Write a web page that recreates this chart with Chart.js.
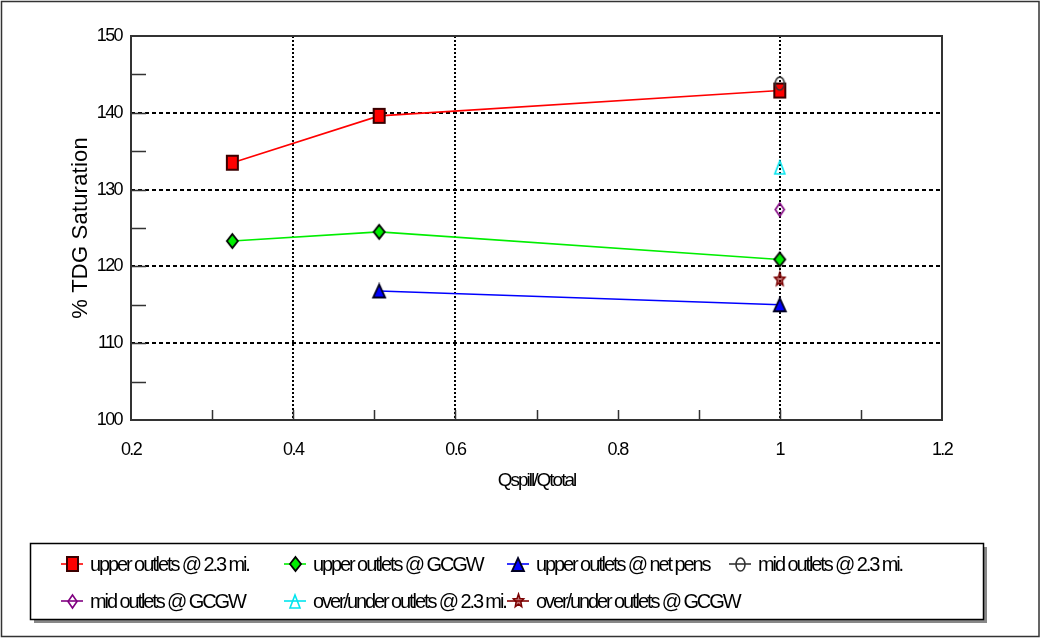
<!DOCTYPE html>
<html>
<head>
<meta charset="utf-8">
<script src="https://cdn.jsdelivr.net/npm/chart.js@4/dist/chart.umd.min.js"></script>
<style>
  html, body { margin: 0; padding: 0; background: #fff; }
  #wrap { width: 1041px; height: 638px; position: relative; }
</style>
</head>
<body>
<div id="wrap"><canvas id="c" width="1041" height="638"></canvas></div>
<script>
// Series names, in legend order
const seriesNames = [
  'upper outlets @ 2.3 mi.',
  'upper outlets @ GCGW',
  'upper outlets @ net pens',
  'mid outlets @ 2.3 mi.',
  'mid outlets @ GCGW',
  'over/under outlets @ 2.3 mi.',
  'over/under outlets @ GCGW'
];

// Qspill/Qtotal values for each series
const xUpper23   = [0.325, 0.506, 1.0];
const xUpperGCGW = [0.325, 0.506, 1.0];
const xNetPens   = [0.506, 1.0];
const xMid23     = [1.0];
const xMidGCGW   = [1.0];
const xOver23    = [1.0];
const xOverGCGW  = [1.0];

// % TDG saturation for each series
const tdgUpper23   = [133.5, 139.6, 142.9];
const tdgUpperGCGW = [123.3, 124.5, 120.9];
const tdgNetPens   = [116.8, 115.0];
const tdgMid23     = [143.8];
const tdgMidGCGW   = [127.4];
const tdgOver23    = [132.9];
const tdgOverGCGW  = [118.3];

// Axis tick labels and titles
const xTickLabels = ['0.2', '0.4', '0.6', '0.8', '1', '1.2'];
const yTickLabels = ['100', '110', '120', '130', '140', '150'];
const xTitle = 'Qspill/Qtotal';
const yTitle = '% TDG Saturation';

const FONT = '"Liberation Sans", Arial, sans-serif';

// Marker images (slightly taller than wide)
function marker(shape, fill, stroke, w, h, lw) {
  const pad = 2;
  const c = document.createElement('canvas');
  c.width = w + pad * 2; c.height = h + pad * 2;
  const g = c.getContext('2d');
  const cx = c.width / 2, cy = c.height / 2, rx = w / 2, ry = h / 2;
  g.beginPath();
  if (shape === 'square') {
    g.rect(cx - rx, cy - ry, w, h);
  } else if (shape === 'diamond') {
    g.moveTo(cx, cy - ry); g.lineTo(cx + rx, cy); g.lineTo(cx, cy + ry); g.lineTo(cx - rx, cy); g.closePath();
  } else if (shape === 'triangle') {
    g.moveTo(cx, cy - ry); g.lineTo(cx + rx, cy + ry); g.lineTo(cx - rx, cy + ry); g.closePath();
  } else if (shape === 'circle') {
    g.ellipse(cx, cy, rx, ry, 0, 0, Math.PI * 2);
  } else if (shape === 'star') {
    for (let i = 0; i < 10; i++) {
      const a = -Math.PI / 2 + i * Math.PI / 5;
      const k = i % 2 === 0 ? 1 : 0.45;
      const px = cx + Math.cos(a) * rx * k, py = cy + Math.sin(a) * ry * k;
      if (i === 0) g.moveTo(px, py); else g.lineTo(px, py);
    }
    g.closePath();
  }
  if (fill) { g.fillStyle = fill; g.fill(); }
  g.lineWidth = lw; g.strokeStyle = stroke; g.stroke();
  return c;
}

const markers = [
  marker('square',   '#ff0000', '#3a0000', 11, 14, 2),
  marker('diamond',  '#00ee00', '#000000', 11, 14, 1.8),
  marker('triangle', '#0000ff', '#000022', 12, 13, 1.8),
  marker('circle',   null,      '#333333', 9, 13, 1.6),
  marker('diamond',  null,      '#800080', 9, 13, 1.6),
  marker('triangle', null,      '#00e5ee', 10, 13, 1.6),
  marker('star',     'rgba(140,0,0,0.55)', '#7a0000', 11, 14, 1.5)
];
const lineColors = ['#ff0000', '#00ee00', '#0000ff', '#333333', '#800080', '#00e5ee', '#800000'];

function pts(xs, ys) { return xs.map((x, i) => ({ x: x, y: ys[i] })); }

const seriesData = [
  pts(xUpper23, tdgUpper23),
  pts(xUpperGCGW, tdgUpperGCGW),
  pts(xNetPens, tdgNetPens),
  pts(xMid23, tdgMid23),
  pts(xMidGCGW, tdgMidGCGW),
  pts(xOver23, tdgOver23),
  pts(xOverGCGW, tdgOverGCGW)
];

const datasets = seriesNames.map((name, i) => ({
  label: name,
  data: seriesData[i],
  showLine: i < 3,
  borderColor: lineColors[i],
  backgroundColor: lineColors[i],
  borderWidth: 1.6,
  tension: 0,
  pointStyle: markers[i],
  pointRadius: 6,
  pointHoverRadius: 6,
  order: i === 3 ? -1 : 0
}));

const near = (a, b) => Math.abs(a - b) < 1e-6;

// Frame, inside tick marks, axis titles and the boxed legend
const decorations = {
  id: 'decorations',
  beforeDraw(chart) {
    const ctx = chart.ctx;
    ctx.save();
    ctx.fillStyle = '#fff';
    ctx.fillRect(0, 0, chart.width, chart.height);
    ctx.restore();
    ctx.letterSpacing = '-1.6px';
  },
  beforeDatasetsDraw(chart) {
    const ctx = chart.ctx, a = chart.chartArea;
    const xs = chart.scales.x, ys = chart.scales.y;
    ctx.save();
    ctx.strokeStyle = '#333';
    ctx.lineWidth = 2;
    ctx.strokeRect(a.left, a.top, a.right - a.left, a.bottom - a.top);
    ctx.lineWidth = 1.5;
    ctx.beginPath();
    for (let v = 105; v < 150; v += 5) {
      const y = Math.round(ys.getPixelForValue(v)) + 0.5;
      ctx.moveTo(a.left, y); ctx.lineTo(a.left + 15, y);
    }
    for (let k = 3; k <= 11; k++) {
      const x = Math.round(xs.getPixelForValue(k / 10)) + 0.5;
      ctx.moveTo(x, a.bottom); ctx.lineTo(x, a.bottom - 10);
    }
    ctx.stroke();
    ctx.restore();
  },
  afterDraw(chart) {
    const ctx = chart.ctx, a = chart.chartArea;
    ctx.save();
    ctx.fillStyle = '#000';
    // y-axis title
    ctx.font = '22px ' + FONT;
    ctx.letterSpacing = '0.2px';
    ctx.textAlign = 'center';
    ctx.textBaseline = 'middle';
    ctx.save();
    ctx.translate(81, (a.top + a.bottom) / 2);
    ctx.rotate(-Math.PI / 2);
    ctx.fillText(yTitle, 0, 0);
    ctx.restore();
    // x-axis title
    ctx.font = '19px ' + FONT;
    ctx.letterSpacing = '-2.0px';
    ctx.fillText(xTitle, (a.left + a.right) / 2, 481);

    // legend box with shadow
    const bx = 30, by = 543, bw = 953, bh = 76;
    ctx.fillStyle = '#888';
    ctx.fillRect(bx + 4, by + 4, bw, bh);
    ctx.fillStyle = '#fff';
    ctx.fillRect(bx, by, bw, bh);
    ctx.strokeStyle = '#000';
    ctx.lineWidth = 1.5;
    ctx.strokeRect(bx + 0.5, by + 0.5, bw, bh);

    const colX = [72, 295, 518, 740];
    const rowY = [564, 601];
    ctx.font = '20px ' + FONT;
    ctx.letterSpacing = '-2.1px';
    ctx.textAlign = 'left';
    ctx.textBaseline = 'middle';
    chart.data.datasets.forEach((ds, i) => {
      const cx = colX[i % 4], cy = rowY[Math.floor(i / 4)];
      ctx.strokeStyle = ds.borderColor;
      ctx.lineWidth = 1.6;
      ctx.beginPath();
      ctx.moveTo(cx - 11, cy); ctx.lineTo(cx + 11, cy);
      ctx.stroke();
      const m = ds.pointStyle;
      ctx.drawImage(m, Math.round(cx - m.width / 2), Math.round(cy - m.height / 2));
      ctx.fillStyle = '#000';
      ctx.fillText(ds.label, cx + 18, cy + 1);
    });

    // outer border
    ctx.strokeStyle = '#333';
    ctx.lineWidth = 1.5;
    ctx.strokeRect(1.5, 1.5, chart.width - 3.5, chart.height - 3);
    ctx.restore();
  }
};

new Chart(document.getElementById('c'), {
  type: 'scatter',
  data: { datasets: datasets },
  plugins: [decorations],
  options: {
    responsive: false,
    devicePixelRatio: 1,
    animation: false,
    layout: { padding: { left: 0, top: 36, right: 99, bottom: 138 } },
    plugins: { legend: { display: false }, tooltip: { enabled: false } },
    scales: {
      x: {
        type: 'linear',
        min: 0.2, max: 1.2,
        afterFit(s) { s.height = 80; },
        ticks: {
          stepSize: 0.2,
          padding: 19,
          color: '#000',
          font: { family: FONT, size: 18 },
          maxRotation: 0,
          callback(v) {
            const idx = Math.round((v - 0.2) / 0.2);
            return xTickLabels[idx] !== undefined ? xTickLabels[idx] : '';
          }
        },
        grid: {
          drawTicks: false,
          lineWidth: 2,
          color(c) {
            const v = c.tick ? c.tick.value : NaN;
            return (near(v, 0.4) || near(v, 0.6) || near(v, 1.0)) ? '#000' : 'rgba(0,0,0,0)';
          }
        },
        border: { display: false, dash: [2, 2] }
      },
      y: {
        type: 'linear',
        min: 100, max: 150,
        afterFit(s) { s.width = 131; },
        ticks: {
          stepSize: 10,
          padding: 9,
          color: '#000',
          font: { family: FONT, size: 18 },
          callback(v) {
            const idx = Math.round((v - 100) / 10);
            return yTickLabels[idx] !== undefined ? yTickLabels[idx] : '';
          }
        },
        grid: {
          drawTicks: false,
          lineWidth: 2,
          color(c) {
            const v = c.tick ? c.tick.value : NaN;
            return (v > 100 && v < 150) ? '#000' : 'rgba(0,0,0,0)';
          }
        },
        border: { display: false, dash: [4, 3] }
      }
    }
  }
});
</script>
</body>
</html>
